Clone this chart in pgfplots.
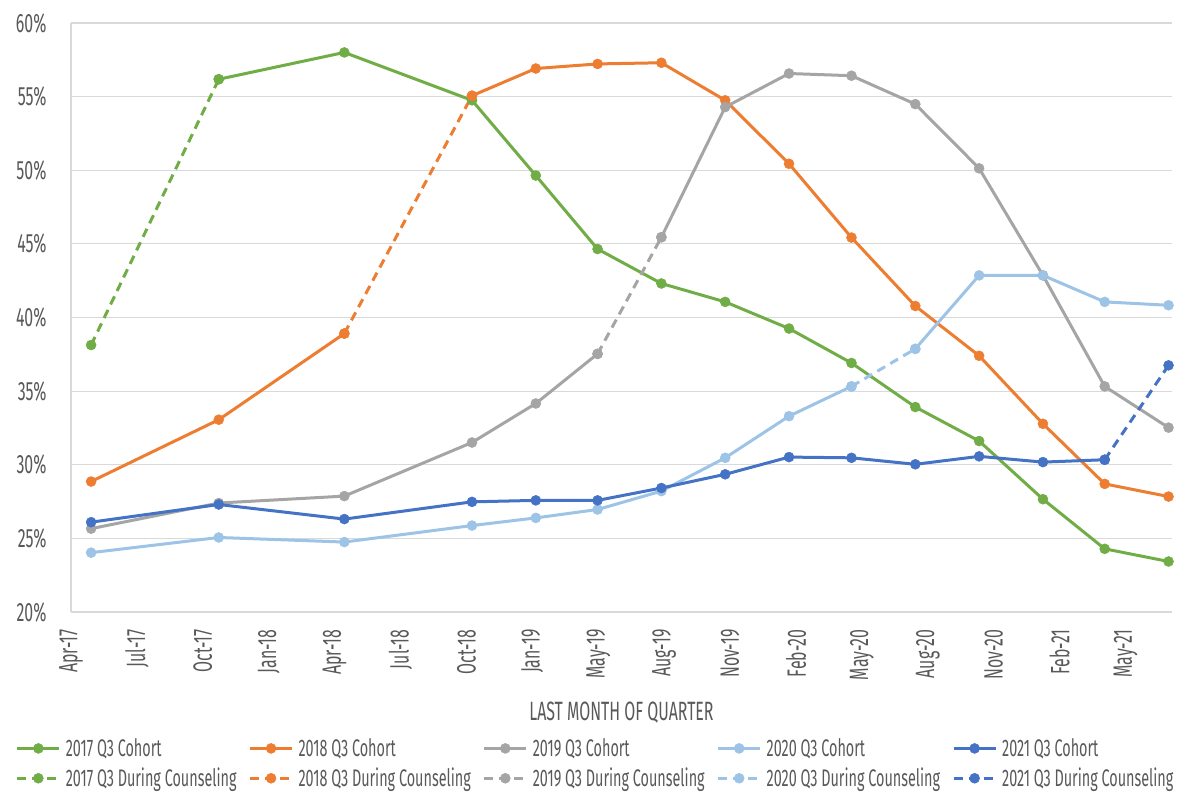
\documentclass[border=0pt]{standalone}
\usepackage{fontspec}
\setmainfont[FakeStretch=0.6]{Fira Sans}
\usepackage{pgfplots}
\pgfplotsset{compat=1.18}
\definecolor{cg}{HTML}{70AD47}
\definecolor{co}{HTML}{ED7D31}
\definecolor{cy}{HTML}{A5A5A5}
\definecolor{cl}{HTML}{9DC3E6}
\definecolor{cb}{HTML}{4472C4}
\definecolor{gridc}{HTML}{D9D9D9}
\definecolor{txtc}{HTML}{595959}
\begin{document}
\begin{tikzpicture}
\useasboundingbox (0pt,0pt) rectangle (1184pt,792pt);
\begin{axis}[
  at={(71pt,180pt)}, anchor=south west,
  width=1101pt, height=589pt, scale only axis,
  xmin=0, xmax=1587, ymin=20, ymax=60,
  xtick={0,95,...,1520},
  xticklabels={Apr-17,Jul-17,Oct-17,Jan-18,Apr-18,Jul-18,Oct-18,Jan-19,May-19,Aug-19,Nov-19,Feb-20,May-20,Aug-20,Nov-20,Feb-21,May-21},
  ytick={20,25,...,60},
  yticklabel={\pgfmathprintnumber{\tick}\%},
  ymajorgrids, grid style={draw=gridc, line width=1.2pt},
  axis x line*=bottom, axis y line*=left,
  axis line style={draw=gridc, line width=1.5pt, -},
  major tick length=0pt,
  tick label style={font=\fontsize{26.5}{30}\selectfont, text=txtc},
  xticklabel style={rotate=90, anchor=east},
  xticklabel shift=14pt,
  yticklabel shift=21pt,
  /pgf/number format/assume math mode=true,
  xlabel={LAST MONTH OF QUARTER},
  xlabel style={font=\fontsize{26.5}{30}\selectfont, text=txtc, at={(axis description cs:0.5,-0.17)}, anchor=center},
  unbounded coords=jump,
  clip=false,
  every axis plot/.append style={line width=3pt, mark=*, mark size=5pt, mark options={solid, line width=0.5pt}},
  legend columns=5,
  legend cell align=left,
  legend image code/.code={\draw[mark repeat=2,mark phase=2] plot coordinates {(0pt,0pt) (21pt,0pt) (42pt,0pt)};},
  legend style={at={(axis description cs:-0.053,-0.208)}, anchor=north west, draw=none, fill=none,
    font=\fontsize{24}{28}\selectfont, text=txtc, row sep=6pt,
    /tikz/every odd column/.append style={column sep=3pt},
    /tikz/every even column/.append style={column sep=10pt}},
]
% Cohort series
\addplot[cg] coordinates {(213,56.18)(394,58.0)(578,54.75)(670,49.64)(759,44.65)(851,42.31)(943,41.06)(1035,39.25)(1125,36.91)(1217,33.92)(1309,31.61)(1401,27.66)(1490,24.29)(1582,23.43)};
\addlegendentry{2017 Q3 Cohort}
\addplot[co] coordinates {(29,28.86)(213,33.06)(394,38.91)(486,nan)(578,55.06)(670,56.91)(759,57.22)(851,57.30)(943,54.75)(1035,50.44)(1125,45.43)(1217,40.78)(1309,37.40)(1401,32.78)(1490,28.70)(1582,27.84)};
\addlegendentry{2018 Q3 Cohort}
\addplot[cy] coordinates {(29,25.66)(213,27.40)(394,27.87)(578,31.51)(670,34.16)(759,37.53)(805,nan)(851,45.45)(943,54.29)(1035,56.57)(1125,56.42)(1217,54.49)(1309,50.13)(1401,42.86)(1490,35.32)(1582,32.52)};
\addlegendentry{2019 Q3 Cohort}
\addplot[cl] coordinates {(29,24.03)(213,25.06)(394,24.75)(578,25.87)(670,26.39)(759,26.96)(851,28.21)(943,30.47)(1035,33.30)(1125,35.32)(1171,nan)(1217,37.87)(1309,42.86)(1401,42.86)(1490,41.06)(1582,40.83)};
\addlegendentry{2020 Q3 Cohort}
\addplot[cb] coordinates {(29,26.10)(213,27.30)(394,26.31)(578,27.48)(670,27.58)(759,27.58)(851,28.42)(943,29.35)(1035,30.52)(1125,30.47)(1217,30.03)(1309,30.57)(1401,30.18)(1490,30.34)};
\addlegendentry{2021 Q3 Cohort}
% During counseling series
\addplot[cg, dash pattern=on 9pt off 6pt] coordinates {(29,38.13)(213,56.18)};
\addlegendentry{2017 Q3 During Counseling}
\addplot[co, dash pattern=on 9pt off 6pt] coordinates {(394,38.91)(578,55.06)};
\addlegendentry{2018 Q3 During Counseling}
\addplot[cy, dash pattern=on 9pt off 6pt] coordinates {(759,37.53)(851,45.45)};
\addlegendentry{2019 Q3 During Counseling}
\addplot[cl, dash pattern=on 9pt off 6pt] coordinates {(1125,35.32)(1217,37.87)};
\addlegendentry{2020 Q3 During Counseling}
\addplot[cb, dash pattern=on 9pt off 6pt] coordinates {(1490,30.34)(1582,36.75)};
\addlegendentry{2021 Q3 During Counseling}
\end{axis}
\end{tikzpicture}
\end{document}
